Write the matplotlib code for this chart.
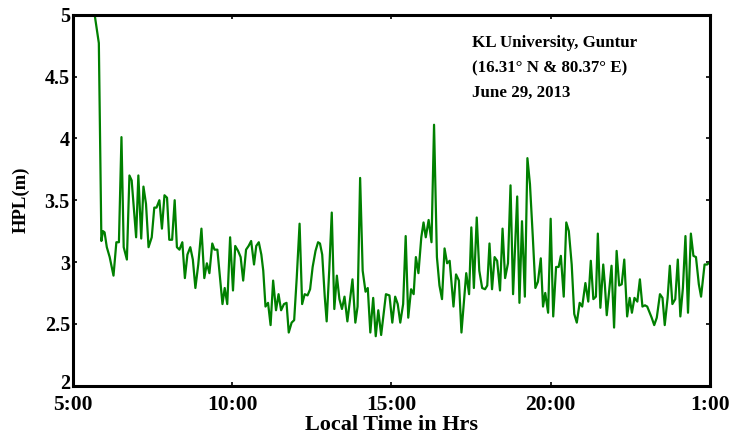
import matplotlib
matplotlib.use("Agg")
import matplotlib.pyplot as plt
import matplotlib.transforms as mtransforms

# local time in hours (5 = 5:00, 25 = 1:00 next day)
hours = [5.66, 5.82, 5.90, 5.95, 6.00, 6.07, 6.16, 6.28, 6.37, 6.45, 6.53, 6.60, 6.70, 6.78, 6.85,
         6.99, 7.06, 7.15, 7.22, 7.30, 7.38, 7.48, 7.56, 7.63, 7.72, 7.80, 7.88, 7.96, 8.03, 8.12,
         8.20, 8.27, 8.35, 8.44, 8.52, 8.60, 8.69, 8.77, 8.85, 8.94, 9.04, 9.13, 9.21, 9.29, 9.38,
         9.45, 9.54, 9.63, 9.70, 9.77, 9.85, 9.94, 10.03, 10.10, 10.19, 10.27, 10.35, 10.44, 10.52, 10.60,
         10.69, 10.76, 10.84, 10.92, 10.98, 11.05, 11.13, 11.21, 11.29, 11.38, 11.46, 11.54, 11.63, 11.71, 11.78,
         11.87, 11.95, 12.03, 12.12, 12.20, 12.28, 12.37, 12.45, 12.53, 12.62, 12.70, 12.76, 12.83, 12.91, 12.97,
         13.05, 13.13, 13.21, 13.29, 13.37, 13.45, 13.53, 13.62, 13.70, 13.78, 13.87, 13.94, 14.02, 14.10, 14.19,
         14.26, 14.34, 14.43, 14.51, 14.59, 14.68, 14.76, 14.83, 14.94, 15.03, 15.12, 15.20, 15.28, 15.37, 15.45,
         15.53, 15.62, 15.70, 15.77, 15.85, 15.94, 16.01, 16.08, 16.17, 16.26, 16.34, 16.43, 16.51, 16.59, 16.67,
         16.75, 16.83, 16.95, 17.03, 17.12, 17.20, 17.28, 17.35, 17.44, 17.51, 17.59, 17.68, 17.76, 17.85, 17.94,
         18.01, 18.08, 18.16, 18.24, 18.32, 18.41, 18.49, 18.57, 18.66, 18.74, 18.82, 18.95, 19.02, 19.10, 19.19,
         19.27, 19.35, 19.44, 19.52, 19.60, 19.69, 19.76, 19.83, 19.92, 20.00, 20.08, 20.17, 20.25, 20.32, 20.41,
         20.49, 20.57, 20.66, 20.74, 20.82, 20.91, 20.99, 21.09, 21.18, 21.26, 21.34, 21.42, 21.48, 21.56, 21.65,
         21.70, 21.76, 21.83, 21.91, 21.99, 22.07, 22.15, 22.23, 22.31, 22.40, 22.48, 22.55, 22.63, 22.72, 22.80,
         22.88, 22.96, 23.03, 23.17, 23.25, 23.33, 23.43, 23.51, 23.58, 23.67, 23.74, 23.82, 23.91, 23.99, 24.07,
         24.15, 24.23, 24.31, 24.40, 24.48, 24.56, 24.65, 24.72, 24.83, 24.91, 25.00]

# horizontal protection level (m)
hpl = [5.05, 4.77, 3.17, 3.25, 3.24, 3.12, 3.04, 2.89, 3.16, 3.16, 4.01, 3.12, 3.02, 3.70, 3.66,
       3.20, 3.70, 3.19, 3.61, 3.47, 3.12, 3.20, 3.44, 3.44, 3.50, 3.27, 3.54, 3.52, 3.18, 3.18,
       3.50, 3.12, 3.10, 3.16, 2.87, 3.06, 3.12, 3.02, 2.79, 2.98, 3.27, 2.87, 2.99, 2.91, 3.15,
       3.10, 3.10, 2.85, 2.66, 2.79, 2.66, 3.20, 2.77, 3.13, 3.09, 3.04, 2.85, 3.10, 3.13, 3.17,
       2.98, 3.13, 3.16, 3.06, 2.93, 2.64, 2.67, 2.49, 2.85, 2.61, 2.74, 2.61, 2.66, 2.67, 2.43,
       2.51, 2.53, 2.87, 3.31, 2.66, 2.74, 2.73, 2.78, 2.96, 3.09, 3.16, 3.15, 3.06, 2.72, 2.52,
       2.93, 3.40, 2.62, 2.89, 2.70, 2.62, 2.72, 2.52, 2.69, 2.86, 2.51, 2.64, 3.68, 2.93, 2.76,
       2.79, 2.43, 2.71, 2.40, 2.61, 2.41, 2.59, 2.74, 2.73, 2.51, 2.72, 2.66, 2.51, 2.66, 3.21,
       2.55, 2.78, 2.74, 3.04, 2.91, 3.20, 3.32, 3.20, 3.34, 3.16, 4.11, 3.04, 2.81, 2.70, 3.11,
       2.99, 3.01, 2.64, 2.90, 2.85, 2.43, 2.69, 2.91, 2.74, 3.28, 2.79, 3.36, 2.93, 2.79, 2.78,
       2.81, 3.15, 2.78, 3.04, 3.01, 2.77, 3.27, 2.87, 2.99, 3.62, 2.74, 3.53, 2.67, 3.33, 2.72,
       3.84, 3.63, 3.20, 2.79, 2.84, 3.03, 2.64, 2.75, 2.59, 3.35, 2.56, 2.96, 2.96, 3.05, 2.72,
       3.32, 3.25, 2.98, 2.58, 2.51, 2.67, 2.64, 2.83, 2.68, 3.01, 2.70, 2.72, 3.23, 2.63, 2.98,
       2.82, 2.57, 2.75, 2.97, 2.47, 3.09, 2.81, 2.82, 3.02, 2.56, 2.71, 2.59, 2.71, 2.68, 2.86,
       2.64, 2.65, 2.64, 2.55, 2.49, 2.55, 2.74, 2.71, 2.49, 2.71, 2.97, 2.66, 2.70, 3.02, 2.56,
       2.79, 3.21, 2.59, 3.23, 3.05, 3.04, 2.82, 2.72, 2.98, 2.98, 3.00]

xticks = [5, 10, 15, 20, 25]
xticklabels = ["5:00", "10:00", "15:00", "20:00", "1:00"]
yticks = [2, 2.5, 3, 3.5, 4, 4.5, 5]
yticklabels = ["2", "2.5", "3", "3.5", "4", "4.5", "5"]

plt.rcParams["font.family"] = ["Liberation Serif", "DejaVu Serif"]
plt.rcParams["font.weight"] = "bold"

fig = plt.figure(figsize=(7.33, 4.41), dpi=100)
ax = fig.add_axes([0.0992, 0.1254, 0.8694, 0.8413])

ax.plot(hours, hpl, color="#008000", linewidth=1.6)

ax.set_xlim(5, 25)
ax.set_ylim(2, 5)
ax.set_xticks(xticks)
ax.set_xticklabels(xticklabels, fontsize=15.5, fontweight="bold")
ax.set_yticks(yticks)
ax.set_yticklabels(yticklabels, fontsize=14.5, fontweight="bold")
ax.tick_params(direction="in", top=True, right=True, length=3, width=1.2)
ax.tick_params(axis="x", pad=7)
ax.tick_params(axis="y", pad=2)

# lift the bottom "2" a little so it sits clear of "5:00"
lbl = ax.get_yticklabels()[0]
lbl.set_transform(lbl.get_transform() +
                  mtransforms.ScaledTranslation(0, 3 / 72, fig.dpi_scale_trans))

for sp in ax.spines.values():
    sp.set_linewidth(2.2)

ax.set_xlabel("Local Time in Hrs", fontsize=16, fontweight="bold", labelpad=0)
ax.set_ylabel("HPL(m)", fontsize=13.5, fontweight="bold", labelpad=11)

# station / date annotation
ax.text(0.627, 0.945, "KL University, Guntur\n(16.31° N & 80.37° E)\nJune 29, 2013",
        transform=ax.transAxes, ha="left", va="top", fontsize=12.2,
        fontweight="bold", linespacing=1.75)

fig.savefig("out.png", dpi=100)
